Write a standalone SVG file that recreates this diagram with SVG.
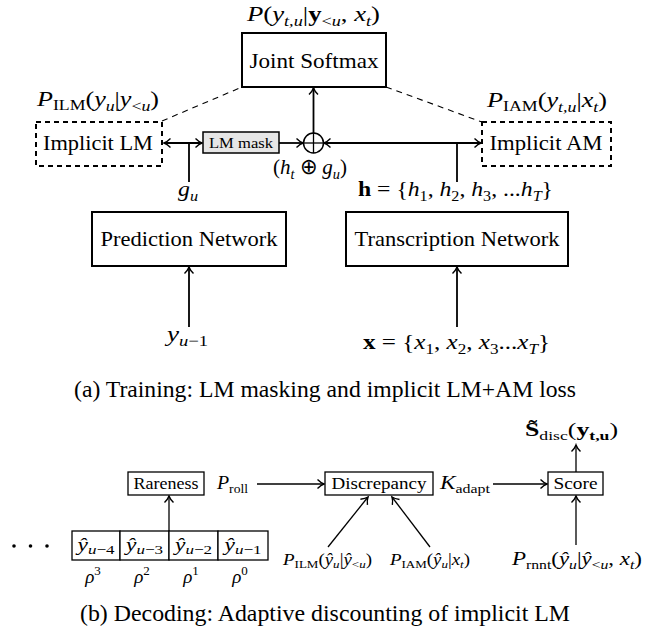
<svg xmlns="http://www.w3.org/2000/svg" width="652" height="634" viewBox="0 0 652 634">
<style>
text { fill: #000; }
.lb { font-size: 21px; }
.mt { font-size: 22px; }
.sm { font-size: 17px; }
.i { font-style: italic; }
.s { font-size: 15px; }
.box { fill: #fff; stroke: #000; stroke-width: 2; }
.dbox { fill: #fff; stroke: #000; stroke-width: 2; stroke-dasharray: 5 4; }
.sbox { fill: #fff; stroke: #000; stroke-width: 1.3; }
.ln { stroke: #000; stroke-width: 1.8; fill: none; }
.tl { stroke: #000; stroke-width: 1.3; fill: none; }
.ds { stroke: #000; stroke-width: 1.1; fill: none; stroke-dasharray: 6 5; }
.cap { font-size: 23px; }
</style>
<defs>
<marker id="ah" viewBox="-8 -6 10 12" markerWidth="10" markerHeight="12" refX="0" refY="0" orient="auto-start-reverse" markerUnits="userSpaceOnUse" overflow="visible">
<path d="M -6.5 -4.5 C -4 -2 -1.5 -0.5 0 0 C -1.5 0.5 -4 2 -6.5 4.5" fill="none" stroke="#000" stroke-width="1.4"/>
</marker>
</defs>

<g id="connectors">
<line class="ds" x1="162" y1="121" x2="242" y2="87"/>
<line class="ds" x1="386" y1="87" x2="482" y2="122"/>
<line class="ln" x1="313.5" y1="133" x2="313.5" y2="88" marker-end="url(#ah)"/>
<line class="ln" x1="164" y1="143" x2="202" y2="143" marker-start="url(#ah)" marker-end="url(#ah)"/>
<line class="ln" x1="189" y1="143" x2="189" y2="182"/>
<line class="ln" x1="279" y1="143" x2="303" y2="143" marker-end="url(#ah)"/>
<line class="ln" x1="324" y1="143" x2="481" y2="143" marker-start="url(#ah)" marker-end="url(#ah)"/>
<line class="ln" x1="457" y1="143" x2="457" y2="182"/>
<line class="ln" x1="189" y1="327" x2="189" y2="267" marker-end="url(#ah)"/>
<line class="ln" x1="457" y1="327" x2="457" y2="267" marker-end="url(#ah)"/>
<line class="tl" x1="169" y1="531" x2="169" y2="496" marker-end="url(#ah)"/>
<line class="tl" x1="257" y1="484" x2="324" y2="484" marker-end="url(#ah)"/>
<line class="tl" x1="493" y1="484" x2="547" y2="484" marker-end="url(#ah)"/>
<line class="tl" x1="576" y1="472" x2="576" y2="445" marker-end="url(#ah)"/>
<line class="tl" x1="576" y1="545" x2="576" y2="496" marker-end="url(#ah)"/>
<line class="tl" x1="328" y1="547" x2="368" y2="497" marker-end="url(#ah)"/>
<line class="tl" x1="430" y1="547" x2="392" y2="497" marker-end="url(#ah)"/>
</g>

<g id="joint-softmax">
<rect class="box" x="242" y="33" width="144" height="54"/>
<text font-family="Liberation Serif, serif" class="lb" x="314" y="68" text-anchor="middle" textLength="129" lengthAdjust="spacingAndGlyphs">Joint Softmax</text>
<text font-family="Liberation Serif, serif" class="mt" x="247" y="21" textLength="133" lengthAdjust="spacingAndGlyphs"><tspan class="i">P</tspan>(<tspan class="i">y</tspan><tspan class="s i" dy="5">t,u</tspan><tspan dy="-5">|</tspan><tspan font-weight="bold">y</tspan><tspan class="s" dy="5">&lt;<tspan class="i">u</tspan></tspan><tspan dy="-5">, </tspan><tspan class="i">x</tspan><tspan class="s i" dy="5">t</tspan><tspan dy="-5">)</tspan></text>
</g>

<g id="implicit-lm">
<rect class="dbox" x="36" y="122" width="126" height="44"/>
<text font-family="Liberation Serif, serif" class="lb" x="98" y="150" text-anchor="middle" textLength="110" lengthAdjust="spacingAndGlyphs">Implicit LM</text>
<text font-family="Liberation Serif, serif" class="mt" x="37" y="106" textLength="122" lengthAdjust="spacingAndGlyphs"><tspan class="i">P</tspan><tspan class="s" dy="4">ILM</tspan><tspan dy="-4">(</tspan><tspan class="i">y</tspan><tspan class="s i" dy="5">u</tspan><tspan dy="-5">|</tspan><tspan class="i">y</tspan><tspan class="s" dy="5">&lt;<tspan class="i">u</tspan></tspan><tspan dy="-5">)</tspan></text>
</g>

<g id="lm-mask">
<rect x="203" y="132" width="76" height="21" fill="#e6e6e6" stroke="#000" stroke-width="1.5"/>
<text font-family="Liberation Serif, serif" x="241" y="148" font-size="15" text-anchor="middle" textLength="64" lengthAdjust="spacingAndGlyphs">LM mask</text>
</g>

<g id="oplus">
<circle cx="313.5" cy="143" r="10" fill="#fff" stroke="#000" stroke-width="1.5"/>
<line x1="303.5" y1="143" x2="323.5" y2="143" stroke="#000" stroke-width="1.3"/>
<line x1="313.5" y1="133" x2="313.5" y2="153" stroke="#000" stroke-width="1.3"/>
<text font-family="Liberation Serif, serif" class="mt" x="273" y="174" textLength="74" lengthAdjust="spacingAndGlyphs">(<tspan class="i">h</tspan><tspan class="s i" dy="5">t</tspan><tspan dy="-5"> ⊕ </tspan><tspan class="i">g</tspan><tspan class="s i" dy="5">u</tspan><tspan dy="-5">)</tspan></text>
</g>

<g id="implicit-am">
<rect class="dbox" x="482" y="122" width="129" height="44"/>
<text font-family="Liberation Serif, serif" class="lb" x="546" y="150" text-anchor="middle" textLength="113" lengthAdjust="spacingAndGlyphs">Implicit AM</text>
<text font-family="Liberation Serif, serif" class="mt" x="487" y="107" textLength="120" lengthAdjust="spacingAndGlyphs"><tspan class="i">P</tspan><tspan class="s" dy="4">IAM</tspan><tspan dy="-4">(</tspan><tspan class="i">y</tspan><tspan class="s i" dy="5">t,u</tspan><tspan dy="-5">|</tspan><tspan class="i">x</tspan><tspan class="s i" dy="5">t</tspan><tspan dy="-5">)</tspan></text>
</g>

<g id="prediction-network">
<rect class="box" x="92" y="212" width="194" height="54"/>
<text font-family="Liberation Serif, serif" class="lb" x="189" y="246" text-anchor="middle" textLength="177" lengthAdjust="spacingAndGlyphs">Prediction Network</text>
<text font-family="Liberation Serif, serif" class="mt" x="178" y="196" textLength="20" lengthAdjust="spacingAndGlyphs"><tspan class="i">g</tspan><tspan class="s i" dy="5">u</tspan></text>
<text font-family="Liberation Serif, serif" class="mt" x="167" y="341" textLength="41" lengthAdjust="spacingAndGlyphs"><tspan class="i">y</tspan><tspan class="s" dy="5"><tspan class="i">u</tspan>−1</tspan></text>
</g>

<g id="transcription-network">
<rect class="box" x="346" y="212" width="222" height="54"/>
<text font-family="Liberation Serif, serif" class="lb" x="457" y="246" text-anchor="middle" textLength="205" lengthAdjust="spacingAndGlyphs">Transcription Network</text>
<text font-family="Liberation Serif, serif" class="mt" x="358" y="196" textLength="195" lengthAdjust="spacingAndGlyphs"><tspan font-weight="bold">h</tspan> = {<tspan class="i">h</tspan><tspan class="s" dy="5">1</tspan><tspan dy="-5">, </tspan><tspan class="i">h</tspan><tspan class="s" dy="5">2</tspan><tspan dy="-5">, </tspan><tspan class="i">h</tspan><tspan class="s" dy="5">3</tspan><tspan dy="-5">, ...</tspan><tspan class="i">h</tspan><tspan class="s i" dy="5">T</tspan><tspan dy="-5">}</tspan></text>
<text font-family="Liberation Serif, serif" class="mt" x="363" y="349" textLength="187" lengthAdjust="spacingAndGlyphs"><tspan font-weight="bold">x</tspan> = {<tspan class="i">x</tspan><tspan class="s" dy="5">1</tspan><tspan dy="-5">, </tspan><tspan class="i">x</tspan><tspan class="s" dy="5">2</tspan><tspan dy="-5">, </tspan><tspan class="i">x</tspan><tspan class="s" dy="5">3</tspan><tspan dy="-5">...</tspan><tspan class="i">x</tspan><tspan class="s i" dy="5">T</tspan><tspan dy="-5">}</tspan></text>
</g>

<text font-family="Liberation Serif, serif" class="cap" x="325" y="397" text-anchor="middle" textLength="502" lengthAdjust="spacingAndGlyphs">(a) Training: LM masking and implicit LM+AM loss</text>

<g id="rareness">
<rect class="sbox" x="128" y="472" width="76" height="23"/>
<text font-family="Liberation Serif, serif" class="sm" x="166" y="489" text-anchor="middle" textLength="65" lengthAdjust="spacingAndGlyphs">Rareness</text>
<text font-family="Liberation Serif, serif" font-size="19" x="217" y="489" textLength="31" lengthAdjust="spacingAndGlyphs"><tspan class="i">P</tspan><tspan font-size="13" dy="4">roll</tspan></text>
</g>

<g id="discrepancy">
<rect class="sbox" x="325" y="472" width="108" height="23"/>
<text font-family="Liberation Serif, serif" class="sm" x="379" y="489" text-anchor="middle" textLength="95" lengthAdjust="spacingAndGlyphs">Discrepancy</text>
<text font-family="Liberation Serif, serif" font-size="19" x="440" y="489" textLength="50" lengthAdjust="spacingAndGlyphs"><tspan class="i">K</tspan><tspan font-size="13" dy="4">adapt</tspan></text>
</g>

<g id="score">
<rect class="sbox" x="548" y="472" width="55" height="23"/>
<text font-family="Liberation Serif, serif" class="sm" x="575.5" y="489" text-anchor="middle" textLength="44" lengthAdjust="spacingAndGlyphs">Score</text>
<text font-family="Liberation Serif, serif" font-size="19" x="525" y="436" textLength="93" lengthAdjust="spacingAndGlyphs"><tspan font-weight="bold">S̃</tspan><tspan font-size="13" dy="4">disc</tspan><tspan dy="-4">(</tspan><tspan font-weight="bold">y</tspan><tspan font-size="13" font-weight="bold" dy="4">t,u</tspan><tspan dy="-4">)</tspan></text>
</g>

<g id="history">
<rect class="sbox" x="72" y="531" width="48" height="29"/>
<rect class="sbox" x="120" y="531" width="49" height="29"/>
<rect class="sbox" x="169" y="531" width="49" height="29"/>
<rect class="sbox" x="218" y="531" width="50" height="29"/>
<text font-family="Liberation Serif, serif" font-size="18" x="96" y="551" text-anchor="middle" textLength="37" lengthAdjust="spacingAndGlyphs"><tspan class="i">ŷ</tspan><tspan font-size="13" dy="3"><tspan class="i">u</tspan>−4</tspan></text>
<text font-family="Liberation Serif, serif" font-size="18" x="144.5" y="551" text-anchor="middle" textLength="37" lengthAdjust="spacingAndGlyphs"><tspan class="i">ŷ</tspan><tspan font-size="13" dy="3"><tspan class="i">u</tspan>−3</tspan></text>
<text font-family="Liberation Serif, serif" font-size="18" x="193.5" y="551" text-anchor="middle" textLength="37" lengthAdjust="spacingAndGlyphs"><tspan class="i">ŷ</tspan><tspan font-size="13" dy="3"><tspan class="i">u</tspan>−2</tspan></text>
<text font-family="Liberation Serif, serif" font-size="18" x="243" y="551" text-anchor="middle" textLength="37" lengthAdjust="spacingAndGlyphs"><tspan class="i">ŷ</tspan><tspan font-size="13" dy="3"><tspan class="i">u</tspan>−1</tspan></text>
<text font-family="Liberation Serif, serif" font-size="19" x="93" y="583" text-anchor="middle"><tspan class="i">ρ</tspan><tspan font-size="13" dy="-8">3</tspan></text>
<text font-family="Liberation Serif, serif" font-size="19" x="142" y="583" text-anchor="middle"><tspan class="i">ρ</tspan><tspan font-size="13" dy="-8">2</tspan></text>
<text font-family="Liberation Serif, serif" font-size="19" x="191" y="583" text-anchor="middle"><tspan class="i">ρ</tspan><tspan font-size="13" dy="-8">1</tspan></text>
<text font-family="Liberation Serif, serif" font-size="19" x="240" y="583" text-anchor="middle"><tspan class="i">ρ</tspan><tspan font-size="13" dy="-8">0</tspan></text>
<circle cx="14" cy="546" r="1.8"/>
<circle cx="30.5" cy="546" r="1.8"/>
<circle cx="47" cy="546" r="1.8"/>
</g>

<g id="inputs">
<text font-family="Liberation Serif, serif" font-size="16" x="283" y="565" textLength="89" lengthAdjust="spacingAndGlyphs"><tspan class="i">P</tspan><tspan font-size="11" dy="3">ILM</tspan><tspan dy="-3">(</tspan><tspan class="i">ŷ</tspan><tspan font-size="11" class="i" dy="3">u</tspan><tspan dy="-3">|</tspan><tspan class="i">ŷ</tspan><tspan font-size="11" dy="3">&lt;<tspan class="i">u</tspan></tspan><tspan dy="-3">)</tspan></text>
<text font-family="Liberation Serif, serif" font-size="16" x="390" y="565" textLength="80" lengthAdjust="spacingAndGlyphs"><tspan class="i">P</tspan><tspan font-size="11" dy="3">IAM</tspan><tspan dy="-3">(</tspan><tspan class="i">ŷ</tspan><tspan font-size="11" class="i" dy="3">u</tspan><tspan dy="-3">|</tspan><tspan class="i">x</tspan><tspan font-size="11" class="i" dy="3">t</tspan><tspan dy="-3">)</tspan></text>
<text font-family="Liberation Serif, serif" font-size="19" x="512" y="565" textLength="130" lengthAdjust="spacingAndGlyphs"><tspan class="i">P</tspan><tspan font-size="13" dy="4">rnnt</tspan><tspan dy="-4">(</tspan><tspan class="i">ŷ</tspan><tspan font-size="13" class="i" dy="4">u</tspan><tspan dy="-4">|</tspan><tspan class="i">ŷ</tspan><tspan font-size="13" dy="4">&lt;<tspan class="i">u</tspan></tspan><tspan dy="-4">, </tspan><tspan class="i">x</tspan><tspan font-size="13" class="i" dy="4">t</tspan><tspan dy="-4">)</tspan></text>
</g>

<text font-family="Liberation Serif, serif" class="cap" x="325" y="621" text-anchor="middle" textLength="490" lengthAdjust="spacingAndGlyphs">(b) Decoding: Adaptive discounting of implicit LM</text>
</svg>
